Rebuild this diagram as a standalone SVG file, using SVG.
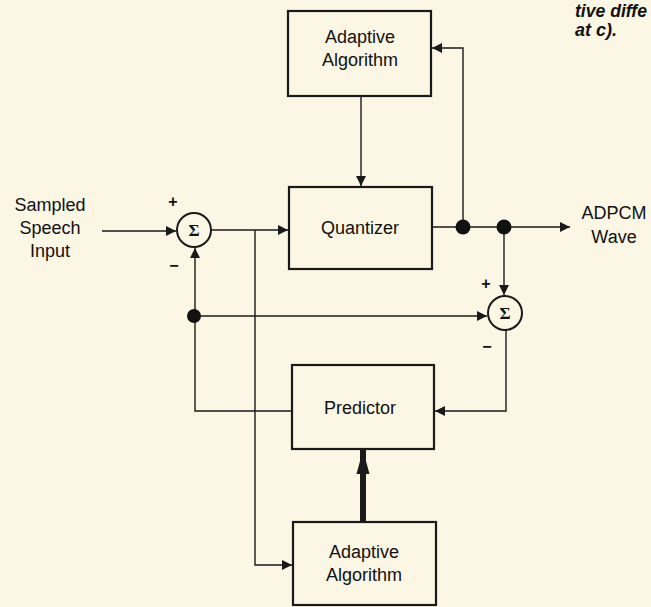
<svg xmlns="http://www.w3.org/2000/svg" width="651" height="607" viewBox="0 0 651 607">
<defs>
<marker id="arr" markerUnits="userSpaceOnUse" markerWidth="12" markerHeight="10" refX="10" refY="5" orient="auto">
<path d="M0,0 L10,5 L0,10 Z" fill="#1a1a1a"/>
</marker>
<marker id="bigarr" markerUnits="userSpaceOnUse" markerWidth="26" markerHeight="16" refX="24" refY="7" orient="auto">
<path d="M0,0.5 L24,7 L0,13.5 Z" fill="#1a1a1a"/>
</marker>
</defs>
<style>
.box{fill:none;stroke:#1a1a1a;stroke-width:2.2}
.lbl{font-family:"Liberation Sans",Arial,sans-serif;font-size:18px;fill:#111;text-anchor:middle}
.ln{fill:none;stroke:#1a1a1a;stroke-width:1.4}
.sum{fill:none;stroke:#1a1a1a;stroke-width:2}
.sig{font-family:"Liberation Serif","Times New Roman",serif;font-weight:bold;font-size:17px;fill:#111;text-anchor:middle}
.pm{font-family:"Liberation Sans",Arial,sans-serif;font-weight:bold;font-size:16px;fill:#111;text-anchor:middle}
.dot{fill:#111}
.cap{font-family:"Liberation Sans",Arial,sans-serif;font-weight:bold;font-style:italic;font-size:18px;fill:#111}
</style>
<rect width="651" height="607" fill="#fcf6e5"/>

<text class="cap" x="575" y="17" textLength="72" lengthAdjust="spacingAndGlyphs">tive diffe</text>
<text class="cap" x="575" y="36">at c).</text>

<g id="input-label">
<text class="lbl" x="50" y="211">Sampled</text>
<text class="lbl" x="50" y="234">Speech</text>
<text class="lbl" x="50" y="257">Input</text>
</g>

<g id="output-label">
<text class="lbl" x="614" y="219">ADPCM</text>
<text class="lbl" x="614" y="243">Wave</text>
</g>

<g id="adaptive-top">
<rect class="box" x="288" y="11" width="143" height="85"/>
<text class="lbl" x="360" y="43">Adaptive</text>
<text class="lbl" x="360" y="66">Algorithm</text>
</g>

<g id="quantizer">
<rect class="box" x="289" y="187" width="143" height="82"/>
<text class="lbl" x="360" y="234">Quantizer</text>
</g>

<g id="predictor">
<rect class="box" x="292" y="365" width="142" height="84"/>
<text class="lbl" x="360" y="414">Predictor</text>
</g>

<g id="adaptive-bottom">
<rect class="box" x="293" y="522" width="143" height="83"/>
<text class="lbl" x="364" y="558">Adaptive</text>
<text class="lbl" x="364" y="581">Algorithm</text>
</g>

<g id="sum-left">
<circle class="sum" cx="194" cy="230" r="17"/>
<text class="sig" x="194" y="236">Σ</text>
<text class="pm" x="173" y="207">+</text>
<text class="pm" x="174" y="271">−</text>
</g>

<g id="sum-right">
<circle class="sum" cx="505" cy="313" r="17"/>
<text class="sig" x="505" y="319">Σ</text>
<text class="pm" x="486" y="289">+</text>
<text class="pm" x="487" y="352">−</text>
</g>

<g id="connectors">
<line class="ln" x1="102" y1="231" x2="176" y2="231" marker-end="url(#arr)"/>
<line class="ln" x1="211" y1="230" x2="288" y2="230" marker-end="url(#arr)"/>
<polyline class="ln" points="255,230 255,565 292,565" marker-end="url(#arr)"/>
<line class="ln" x1="361" y1="96" x2="361" y2="186" marker-end="url(#arr)"/>
<line class="ln" x1="432" y1="227" x2="570" y2="227" marker-end="url(#arr)"/>
<polyline class="ln" points="463,227 463,48 432,48" marker-end="url(#arr)"/>
<line class="ln" x1="504" y1="227" x2="504" y2="295" marker-end="url(#arr)"/>
<line class="ln" x1="194" y1="316" x2="487" y2="316" marker-end="url(#arr)"/>
<polyline class="ln" points="506,330 506,411 435,411" marker-end="url(#arr)"/>
<polyline class="ln" points="292,411 195,411 195,248" marker-end="url(#arr)"/>
<line x1="363" y1="521" x2="363" y2="450" stroke="#1a1a1a" stroke-width="6" marker-end="url(#bigarr)"/>
<circle class="dot" cx="463" cy="227" r="7.5"/>
<circle class="dot" cx="504" cy="227" r="7.5"/>
<circle class="dot" cx="194" cy="316" r="7"/>
</g>
</svg>
